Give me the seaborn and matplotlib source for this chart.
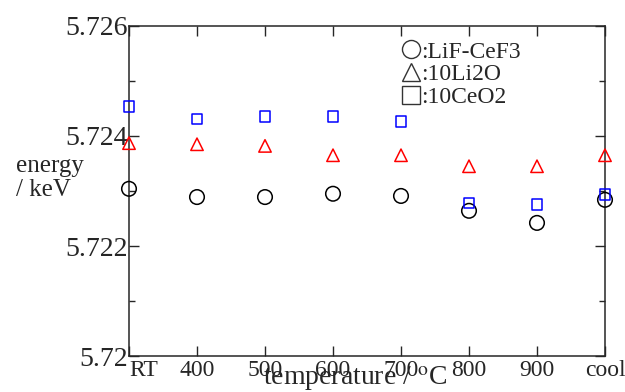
import pandas as pd
import numpy as np
import matplotlib
matplotlib.use('Agg')
import matplotlib.pyplot as plt
from matplotlib.lines import Line2D
from matplotlib.ticker import MultipleLocator, FormatStrFormatter
import seaborn as sns

temps = ['RT', '400', '500', '600', '700', '800', '900', 'cool']
lif_cef3 = [5.72304, 5.72289, 5.72289, 5.72295, 5.72291, 5.72264, 5.72242, 5.72284]
li2o = [5.72387, 5.72385, 5.72382, 5.72365, 5.72365, 5.72345, 5.72345, 5.72365]
ceo2 = [5.72453, 5.72431, 5.72435, 5.72436, 5.72427, 5.72278, 5.72275, 5.72293]
series = ['LiF-CeF3', '10Li2O', '10CeO2']

df = pd.DataFrame({
    'temp': temps * 3,
    'energy': lif_cef3 + li2o + ceo2,
    'sample': np.repeat(series, len(temps)),
})

sns.set_style('ticks')
plt.rcParams['font.family'] = ['Liberation Serif', 'DejaVu Serif']
plt.rcParams['mathtext.fontset'] = 'stix'

fig = plt.figure(figsize=(6.25, 3.92), dpi=100)
ax = fig.add_axes([0.2064, 0.0918, 0.7616, 0.8419])

colors = {'LiF-CeF3': 'black', '10Li2O': '#ff0000', '10CeO2': '#0000ff'}
markers = {'LiF-CeF3': 'o', '10Li2O': '^', '10CeO2': 's'}
sizes = {'LiF-CeF3': 110, '10Li2O': 80, '10CeO2': 60}
for name in series:
    sub = df[df['sample'] == name]
    sns.scatterplot(data=sub, x='temp', y='energy', ax=ax, marker=markers[name],
                    s=sizes[name], facecolors='none', edgecolor=colors[name],
                    linewidth=1.1, clip_on=False, zorder=3, legend=False)

ax.set_xlim(0, len(temps) - 1)
ax.set_ylim(5.72, 5.726)
ax.set_xticks(range(len(temps)))
ax.set_xticklabels(temps, fontsize=17)
ax.get_xticklabels()[0].set_horizontalalignment('left')
ax.yaxis.set_major_locator(MultipleLocator(0.002))
ax.yaxis.set_minor_locator(MultipleLocator(0.001))
ax.yaxis.set_major_formatter(FormatStrFormatter('%g'))
ax.tick_params(axis='y', labelsize=20, pad=1)
ax.tick_params(axis='x', pad=3)
ax.tick_params(which='both', direction='in', top=True, right=True, width=1)
ax.tick_params(which='major', length=7)
ax.tick_params(which='minor', length=4)
for sp in ax.spines.values():
    sp.set_linewidth(1.1)

ax.set_ylabel('energy\n/ keV', rotation=0, fontsize=18, ha='left', va='center', linespacing=1.15)
ax.yaxis.set_label_coords(-0.237, 0.54)
ax.set_xlabel(r'temperature / $^{\mathrm{o}}$C', fontsize=20, va='center')
ax.xaxis.set_label_coords(0.475, -0.068)

handles = [Line2D([], [], linestyle='none', marker=m, markersize=13, markerfacecolor='none',
                  markeredgecolor='#333333', markeredgewidth=1.0)
           for m in ['o', '^', 's']]
ax.legend(handles, [':LiF-CeF3', ':10Li2O', ':10CeO2'], loc='upper left',
          bbox_to_anchor=(0.545, 0.99), frameon=False, fontsize=17,
          handlelength=0.9, handletextpad=0.0, borderpad=0, labelspacing=0.05)

fig.savefig('out.png', dpi=100)
